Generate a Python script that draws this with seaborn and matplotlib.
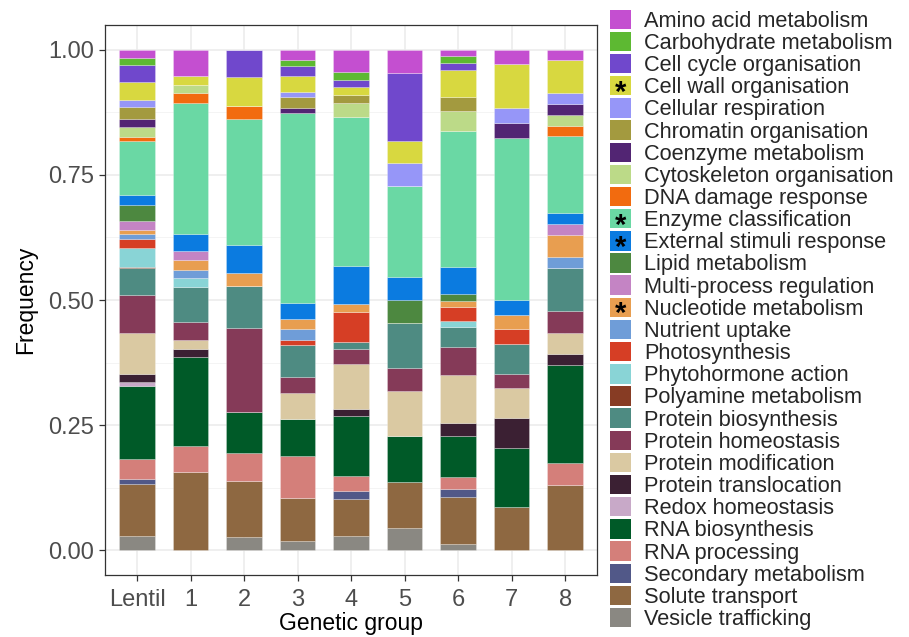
import pandas as pd
import matplotlib
matplotlib.use("Agg")
import matplotlib.pyplot as plt
from matplotlib.patches import Patch
import seaborn as sns

categories = [
    "Amino acid metabolism", "Carbohydrate metabolism", "Cell cycle organisation",
    "Cell wall organisation", "Cellular respiration", "Chromatin organisation",
    "Coenzyme metabolism", "Cytoskeleton organisation", "DNA damage response",
    "Enzyme classification", "External stimuli response", "Lipid metabolism",
    "Multi-process regulation", "Nucleotide metabolism", "Nutrient uptake",
    "Photosynthesis", "Phytohormone action", "Polyamine metabolism",
    "Protein biosynthesis", "Protein homeostasis", "Protein modification",
    "Protein translocation", "Redox homeostasis", "RNA biosynthesis",
    "RNA processing", "Secondary metabolism", "Solute transport",
    "Vesicle trafficking",
]
colours = [
    "#C44FD0", "#5DB932", "#7048CC", "#D8D840", "#9696F8", "#A39A3F", "#522573",
    "#BCDA88", "#F26B0F", "#6AD8A4", "#0B7BE0", "#4D8840", "#C484C4", "#E89E50",
    "#6F9DD8", "#D63E25", "#89D4D6", "#873C24", "#4E8B82", "#853A58", "#DAC9A2",
    "#3B2033", "#C8A9C8", "#005A28", "#D47F7A", "#515888", "#8E6841", "#8A8882",
]
starred = ["Cell wall organisation", "Enzyme classification",
           "External stimuli response", "Nucleotide metabolism"]

groups = ["Lentil", "1", "2", "3", "4", "5", "6", "7", "8"]

# frequencies per group, in the order of `categories`
lentil = [0.016, 0.014, 0.033, 0.037, 0.013, 0.025, 0.015, 0.021, 0.008, 0.107,
          0.020, 0.031, 0.018, 0.008, 0.011, 0.018, 0.037, 0.002, 0.053, 0.077,
          0.081, 0.017, 0.008, 0.145, 0.039, 0.010, 0.103, 0.029]
g1 = [0.053, 0, 0, 0.017, 0, 0, 0, 0.017, 0.019, 0.262,
      0.035, 0, 0.017, 0.019, 0.017, 0, 0.018, 0, 0.070, 0.035,
      0.018, 0.017, 0, 0.177, 0.053, 0, 0.156, 0]
g2 = [0, 0, 0.055, 0.056, 0, 0, 0, 0, 0.027, 0.250,
      0.056, 0, 0, 0.027, 0, 0, 0, 0, 0.083, 0.167,
      0, 0, 0, 0.083, 0.055, 0, 0.111, 0.027]
g3 = [0.021, 0.011, 0.021, 0.031, 0.011, 0.021, 0.011, 0, 0, 0.378,
      0.032, 0, 0, 0.021, 0.021, 0.011, 0, 0, 0.064, 0.031,
      0.053, 0, 0, 0.073, 0.084, 0, 0.085, 0.019]
g4 = [0.045, 0.015, 0.015, 0.015, 0, 0.015, 0, 0.029, 0, 0.298,
      0.074, 0, 0, 0.016, 0, 0.060, 0, 0, 0.015, 0.029,
      0.090, 0.014, 0, 0.120, 0.030, 0.016, 0.074, 0.028]
g5 = [0.046, 0, 0.135, 0.045, 0.045, 0, 0, 0, 0, 0.182,
      0.046, 0.045, 0, 0, 0, 0, 0, 0, 0.090, 0.045,
      0.091, 0, 0, 0.092, 0, 0, 0.091, 0.044]
g6 = [0.013, 0.013, 0.015, 0.053, 0, 0.027, 0, 0.041, 0, 0.270,
      0.054, 0.014, 0, 0.013, 0, 0.027, 0.013, 0, 0.040, 0.055,
      0.095, 0.026, 0, 0.082, 0.025, 0.015, 0.093, 0.013]
g7 = [0.029, 0, 0, 0.088, 0.030, 0, 0.029, 0, 0, 0.324,
      0.029, 0, 0, 0.029, 0, 0.030, 0, 0, 0.059, 0.029,
      0.059, 0.059, 0, 0.118, 0, 0, 0.087, 0]
g8 = [0.021, 0, 0, 0.065, 0.022, 0, 0.022, 0.021, 0.021, 0.153,
      0.022, 0, 0.022, 0.043, 0.022, 0, 0, 0, 0.087, 0.043,
      0.043, 0.021, 0, 0.195, 0.045, 0, 0.129, 0]

rows = []
for g, vals in zip(groups, [lentil, g1, g2, g3, g4, g5, g6, g7, g8]):
    for c, v in zip(categories, vals):
        rows.append((g, c, v))
df = pd.DataFrame(rows, columns=["group", "category", "freq"])
# bars are proportions, so each group sums to 1
df["freq"] = df["freq"] / df.groupby("group")["freq"].transform("sum")

sns.set_theme(style="whitegrid")
plt.rcParams["font.family"] = ["Liberation Sans", "DejaVu Sans"]

fig = plt.figure(figsize=(9.09, 6.37), dpi=100)
ax = fig.add_axes([0.1155, 0.097, 0.5415, 0.864])

sns.histplot(data=df, x="group", weights="freq", hue="category",
             hue_order=categories, palette=colours, multiple="stack",
             discrete=True, shrink=0.66, alpha=1, linewidth=0.5,
             edgecolor=(1, 1, 1, 0.35), legend=False, ax=ax)

ax.set_xlim(-0.6, 8.6)
ax.set_ylim(-0.05, 1.05)
ax.set_xticks(range(len(groups)))
ax.set_xticklabels(groups)
ax.set_yticks([0, 0.25, 0.5, 0.75, 1.0])
ax.set_yticklabels(["0.00", "0.25", "0.50", "0.75", "1.00"])
ax.set_yticks([0.125, 0.375, 0.625, 0.875], minor=True)
ax.set_facecolor("white")
ax.grid(which="major", color="#EBEBEB", linewidth=1.1)
ax.grid(which="minor", axis="y", color="#F2F2F2", linewidth=0.6)
ax.set_axisbelow(True)
for side in ["left", "bottom", "right", "top"]:
    ax.spines[side].set_visible(True)
    ax.spines[side].set_color("#333333")
    ax.spines[side].set_linewidth(0.9)
ax.tick_params(axis="both", which="major", length=4, width=0.9, color="#333333",
               labelcolor="#4D4D4D", labelsize=17, left=True, bottom=True)
ax.tick_params(axis="y", which="major", pad=4)
ax.tick_params(axis="x", which="major", pad=6)
ax.tick_params(axis="y", which="minor", length=0)
ax.set_xlabel("Genetic group", fontsize=16.5, color="black", labelpad=0.5)
ax.set_ylabel("Frequency", fontsize=16.5, color="black", labelpad=8)

handles = [Patch(facecolor=col, edgecolor="none", label=cat)
           for cat, col in zip(categories, colours)]
leg = fig.legend(handles=handles, loc="upper left",
                 bbox_to_anchor=(0.671, 0.985), frameon=False,
                 fontsize=15.7, handlelength=0.96, handleheight=0.99,
                 handletextpad=0.6, labelspacing=0.0, borderpad=0,
                 borderaxespad=0)

fig.canvas.draw()
inv = fig.transFigure.inverted()
for patch, text in zip(leg.get_patches(), leg.get_texts()):
    if text.get_text() in starred:
        bb = patch.get_window_extent()
        cx, cy = inv.transform(((bb.x0 + bb.x1) / 2, (bb.y0 + bb.y1) / 2))
        fig.text(cx, cy - 0.011, "*", ha="center", va="center", zorder=10,
                 fontsize=21, fontweight="bold", color="black")

fig.savefig("out.png", dpi=100)
